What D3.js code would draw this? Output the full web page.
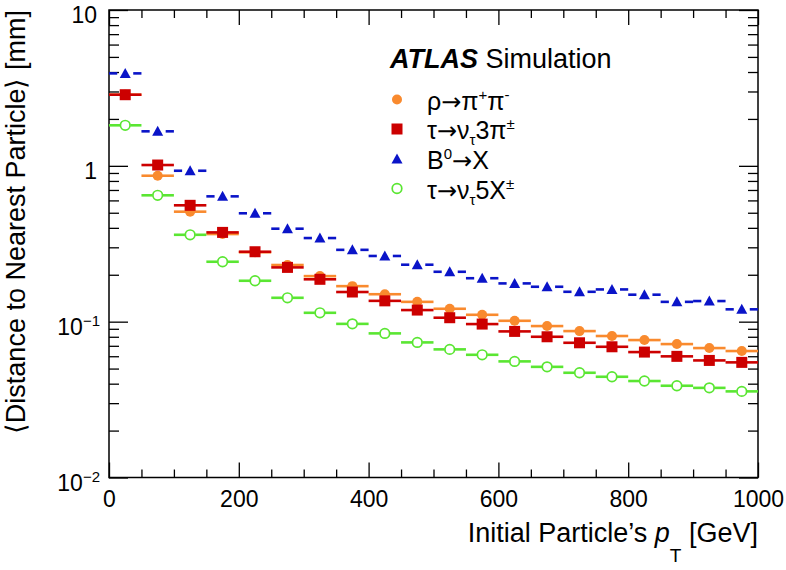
<!DOCTYPE html>
<html><head><meta charset="utf-8">
<script src="https://cdn.jsdelivr.net/npm/d3@7"></script>
<style>
body{margin:0;background:#fff;}
svg{display:block;font-family:"Liberation Sans",Arial,Helvetica,sans-serif;}
</style></head>
<body><svg id="c" width="786" height="570"></svg>
<script>
// ---- data ----
const ptBins = [25,75,125,175,225,275,325,375,425,475,525,575,625,675,725,775,825,875,925,975];
const binWidth = 50;
const rhoPiPi = [2.86,0.864,0.508,0.365,0.279,0.231,0.196,0.169,0.150,0.134,0.121,0.1107,0.1013,0.0937,0.0870,0.0809,0.0762,0.0718,0.0677,0.0648];
const tau3Pi  = [2.86,1.012,0.558,0.374,0.281,0.223,0.187,0.155,0.136,0.1187,0.106,0.0965,0.0866,0.080,0.0732,0.069,0.0638,0.0599,0.0564,0.0548];
const b0X     = [3.92,1.665,0.930,0.637,0.496,0.395,0.344,0.289,0.264,0.232,0.209,0.190,0.176,0.1675,0.1555,0.161,0.149,0.134,0.1356,0.120];
const tau5X   = [1.82,0.647,0.361,0.2424,0.183,0.1423,0.114,0.0968,0.0841,0.0736,0.0664,0.0613,0.0556,0.0513,0.0470,0.0443,0.0416,0.0388,0.0376,0.0357];
const seriesNames = ["rho","tau3","b0","tau5"];
const seriesColors = ["#f98a2e","#cc0000","#0a14c8","#5ae632"];
const seriesMarkers = ["circle","square","triangle","opencircle"];
const xMajorTicks = [0,200,400,600,800,1000];
const xMinorTicks = [50,100,150,250,300,350,450,500,550,650,700,750,850,900,950];
const yMajorTicks = [10,1,0.1,0.01];
const yTickBase = ["10","1","10","10"];
const yTickExp = ["","","\u22121","\u22122"];
const yMinorMult = [2,3,4,5,6,7,8,9];

const svg = d3.select("#c");
svg.append("rect").attr("width",786).attr("height",570).attr("fill","#fff");
const L=109,R=758,T=10,B=477.5;
const x = d3.scaleLinear().domain([0,1000]).range([L,R]);
const y = d3.scaleLog().domain([0.01,10]).range([B,T]);
const yMinor = [];
[0.01,0.1,1].forEach(d=>yMinorMult.forEach(m=>yMinor.push(d*m)));

function styleAxis(g){ g.select(".domain").remove(); g.selectAll("line").attr("stroke","#000").attr("stroke-width",1.3); }
// bottom
const gb = svg.append("g").attr("transform",`translate(0,${B})`)
  .call(d3.axisBottom(x).tickValues(xMajorTicks).tickSize(-15).tickPadding(13).tickFormat(d3.format("d")));
styleAxis(gb);
gb.selectAll("text").attr("font-size",23).attr("fill","#000").attr("font-family","Liberation Sans, Arial");
svg.append("g").attr("transform",`translate(0,${B})`)
  .call(d3.axisBottom(x).tickValues(xMinorTicks).tickSize(-8).tickFormat("")).call(styleAxis);
// top
svg.append("g").attr("transform",`translate(0,${T})`)
  .call(d3.axisTop(x).tickValues(xMajorTicks).tickSize(-15).tickFormat("")).call(styleAxis);
svg.append("g").attr("transform",`translate(0,${T})`)
  .call(d3.axisTop(x).tickValues(xMinorTicks).tickSize(-8).tickFormat("")).call(styleAxis);
// left
svg.append("g").attr("transform",`translate(${L},0)`)
  .call(d3.axisLeft(y).tickValues(yMajorTicks).tickSize(-19).tickFormat("")).call(styleAxis);
svg.append("g").attr("transform",`translate(${L},0)`)
  .call(d3.axisLeft(y).tickValues(yMinor).tickSize(-10).tickFormat("")).call(styleAxis);
// right
svg.append("g").attr("transform",`translate(${R},0)`)
  .call(d3.axisRight(y).tickValues(yMajorTicks).tickSize(-19).tickFormat("")).call(styleAxis);
svg.append("g").attr("transform",`translate(${R},0)`)
  .call(d3.axisRight(y).tickValues(yMinor).tickSize(-10).tickFormat("")).call(styleAxis);
// frame
svg.append("rect").attr("x",L).attr("y",T).attr("width",R-L).attr("height",B-T)
  .attr("fill","none").attr("stroke","#000").attr("stroke-width",1.5);

// y tick labels
yMajorTicks.forEach((v,i)=>{
  const t = svg.append("text").attr("y",y(v)+13).attr("font-size",23).attr("fill","#000").attr("text-anchor","end");
  if(yTickExp[i]){
    t.attr("x",100);
    t.append("tspan").text(yTickBase[i]);
    t.append("tspan").attr("font-size",15).attr("dy",-9).text(yTickExp[i]);
  } else {
    t.attr("x",97).text(yTickBase[i]);
  }
});

// axis titles
const xt = svg.append("text").attr("x",R).attr("y",542).attr("text-anchor","end").attr("font-size",27).attr("fill","#000");
xt.append("tspan").text("Initial Particle\u2019s ");
xt.append("tspan").attr("font-style","italic").text("p");
xt.append("tspan").attr("font-size",19).attr("dy",20).text("T");
xt.append("tspan").attr("dy",-20).text(" [GeV]");

svg.append("text").attr("transform","translate(25,10) rotate(-90)").attr("text-anchor","end")
  .attr("font-size",27).attr("fill","#000").text("\u27E8Distance to Nearest Particle\u27E9 [mm]");

// markers
function drawMarker(g, type, cx, cy, color){
  if(type==="circle") g.append("circle").attr("cx",cx).attr("cy",cy).attr("r",5).attr("fill",color);
  else if(type==="square") g.append("rect").attr("x",cx-5.5).attr("y",cy-5.5).attr("width",11).attr("height",11).attr("fill",color);
  else if(type==="triangle") g.append("path").attr("d",`M${cx},${cy-5.5}L${cx+5.5},${cy+4.5}L${cx-5.5},${cy+4.5}Z`).attr("fill",color);
  else g.append("circle").attr("cx",cx).attr("cy",cy).attr("r",4.8).attr("fill","#fff").attr("stroke",color).attr("stroke-width",1.7);
}
const allSeries = [rhoPiPi,tau3Pi,b0X,tau5X];
allSeries.forEach((vals,si)=>{
  const g = svg.append("g").attr("class","series-"+seriesNames[si]);
  const col = seriesColors[si], mk = seriesMarkers[si];
  const gap = mk==="triangle"?8:(mk==="opencircle"?5:0);
  vals.forEach((v,i)=>{
    const cx = x(ptBins[i]), cy = y(v);
    const x0 = x(ptBins[i]-binWidth/2), x1 = x(ptBins[i]+binWidth/2);
    g.append("line").attr("x1",x0).attr("x2",cx-gap).attr("y1",cy).attr("y2",cy).attr("stroke",col).attr("stroke-width",2.6);
    g.append("line").attr("x1",cx+gap).attr("x2",x1).attr("y1",cy).attr("y2",cy).attr("stroke",col).attr("stroke-width",2.6);
  });
  vals.forEach((v,i)=>drawMarker(g, mk, x(ptBins[i]), y(v), col));
});

// legend
const lg = svg.append("g");
const at = lg.append("text").attr("x",390).attr("y",68).attr("font-size",27).attr("fill","#000");
at.append("tspan").attr("font-weight","bold").attr("font-style","italic").text("ATLAS");
at.append("tspan").text(" Simulation");
const legendParts = [
  [["\u03C1",""],["\u2192","arrow"],["\u03C0",""],["+","sup"],["\u03C0",""],["-","sup"]],
  [["\u03C4",""],["\u2192","arrow"],["\u03BD",""],["\u03C4","sub"],["3\u03C0",""],["\u00B1","sup"]],
  [["B",""],["0","sup"],["\u2192","arrow"],["X",""]],
  [["\u03C4",""],["\u2192","arrow"],["\u03BD",""],["\u03C4","sub"],["5X",""],["\u00B1","sup"]]
];
const legendRows = [99.5,129,159,188.5];
legendParts.forEach((parts,i)=>{
  drawMarker(lg, seriesMarkers[i], 397, legendRows[i], seriesColors[i]);
  const t = lg.append("text").attr("x",427).attr("y",legendRows[i]+10).attr("font-size",25).attr("fill","#000");
  let cur = 0;
  parts.forEach(([s,kind])=>{
    const target = kind==="sup"?-10:(kind==="sub"?6:0);
    const sp = t.append("tspan").attr("dy",target-cur).text(s);
    if(kind==="sup"||kind==="sub") sp.attr("font-size",15);
    if(kind==="arrow") sp.attr("font-family","DejaVu Sans").attr("font-size",24);
    cur = target;
  });
});
</script></body></html>
